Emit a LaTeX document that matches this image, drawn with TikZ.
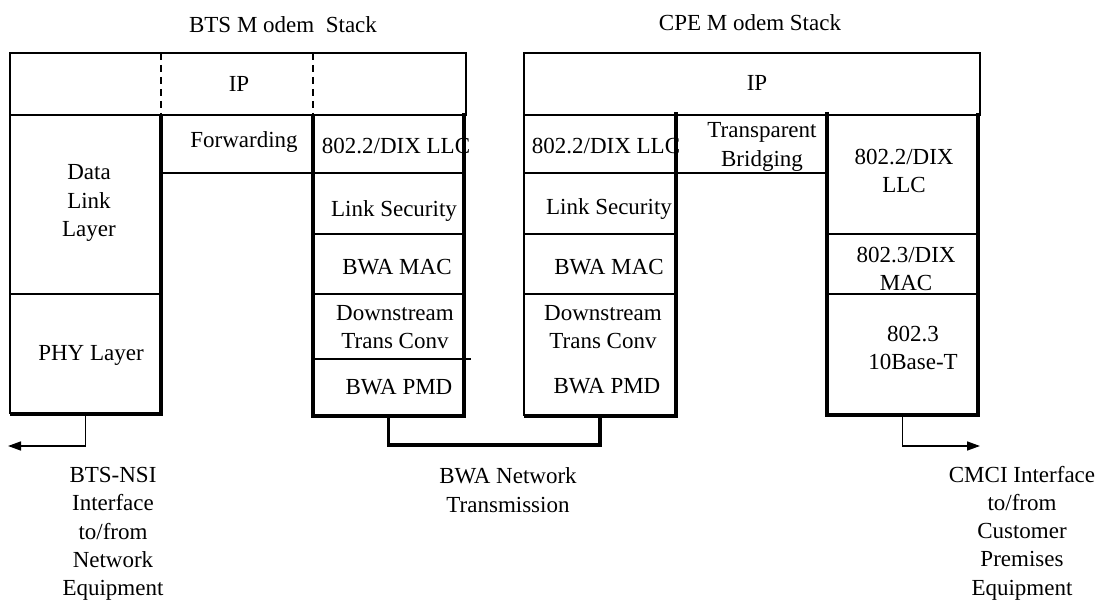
\documentclass[tikz,border=0pt]{standalone}
\usepackage{fontspec}
\setmainfont{Liberation Serif}
\usetikzlibrary{arrows.meta}
\begin{document}
\begin{tikzpicture}[x=1pt,y=-1pt,
  thinline/.style={line width=1.5pt},
  thickline/.style={line width=3.2pt, line join=miter},
  dashline/.style={line width=1.5pt, dash pattern=on 7pt off 5pt},
  lbl/.style={font=\fontsize{23}{28.7}\selectfont, inner sep=0pt, text height=15.5pt, text depth=0pt},
  mlbl/.style={font=\fontsize{23}{28.7}\selectfont, inner sep=0pt, align=center},
  tlbl/.style={font=\fontsize{23}{28.2}\selectfont, inner sep=0pt, align=center},
  block/.style={inner sep=0pt, outer sep=0pt, minimum width=#1}
]
\useasboundingbox (0,0) rectangle (1100,601);

% ---------- BTS modem stack ----------
\draw[thinline] (10,53) rectangle (466,115);
\draw[dashline] (161,53) -- (161,115);
\draw[dashline] (313,53) -- (313,115);
\draw[thinline] (10,115) -- (10,414);
\draw[thinline] (10,294) -- (161,294);
\draw[thickline] (10,414) -- (161,414) -- (161,115);
\draw[thinline] (161,173) -- (313,173);
\draw[thickline] (313,115) -- (313,416) -- (464,416) -- (464,113);
\draw[thinline] (313,173) -- (464,173);
\draw[thinline] (313,234) -- (464,234);
\draw[thinline] (313,294) -- (464,294);
\draw[thinline] (313,359) -- (471,359);

% anchor blocks for the interface lines
\node[block=151pt, minimum height=120pt] (phy) at (85.5,354) {};
\node[block=151pt, minimum height=301pt] (btsstack) at (388.5,265.5) {};

% ---------- CPE modem stack ----------
\draw[thinline] (524,53) rectangle (980,115);
\draw[thinline] (524,115) -- (524,416);
\draw[thickline] (524,416) -- (676,416) -- (676,112);
\draw[thinline] (524,173) -- (676,173);
\draw[thinline] (524,234) -- (676,234);
\draw[thinline] (524,294) -- (676,294);
\draw[thinline] (676,173) -- (827,173);
\draw[thickline] (827,112) -- (827,415) -- (978,415) -- (978,113);
\draw[thinline] (827,234) -- (978,234);
\draw[thinline] (827,294) -- (978,294);

\node[block=152pt, minimum height=301pt] (cpestack) at (600,265.5) {};
\node[block=151pt, minimum height=300pt] (cpeeth) at (902.5,265) {};

% ---------- labels ----------
\node[lbl] (btstitle) at (283,25) {BTS M odem\ \ Stack};
\node[lbl] (cpetitle) at (750,23) {CPE M odem Stack};

\node[lbl] (btsip) at (239,84) {IP};
\node[mlbl] (dll) at (89,203) {Data\\Link\\Layer};
\node[lbl] (phylbl) at (91,353) {PHY Layer};
\node[lbl] (fwd) at (244,140) {Forwarding};
\node[lbl] (btsllc) at (396,146) {802.2/DIX LLC};
\node[lbl] (btssec) at (394,209) {Link Security};
\node[lbl] (btsmac) at (397,267) {BWA MAC};
\node[mlbl] (btsconv) at (395,327) {Downstream\\Trans Conv};
\node[lbl] (btspmd) at (399,387) {BWA PMD};

\node[lbl] (cpeip) at (757,83) {IP};
\node[lbl] (cpellc) at (606,146) {802.2/DIX LLC};
\node[mlbl] (bridge) at (762,147) {Transparent\\Bridging};
\node[lbl] (cpesec) at (609,207) {Link Security};
\node[lbl] (cpemac) at (609,267) {BWA MAC};
\node[mlbl] (cpeconv) at (603,327) {Downstream\\Trans Conv};
\node[lbl] (cpepmd) at (607,386) {BWA PMD};
\node[mlbl] (ethllc) at (904,171) {802.2/DIX\\LLC};
\node[mlbl] (ethmac) at (906,269) {802.3/DIX\\MAC};
\node[mlbl] (ethphy) at (913,348) {802.3\\10Base-T};

% ---------- interfaces ----------
\coordinate (nsiend) at (8,446);
\coordinate (cmciend) at (980,446);
\draw[thinline, -{Triangle[length=13pt,width=9pt]}] (phy.south) |- (nsiend);
\draw[thinline, -{Triangle[length=13pt,width=9pt]}] (cpeeth.south) |- (cmciend);
\draw[thickline] (btsstack.south) -- ++(0,29) -| (cpestack.south);

\node[tlbl] (nsi) at (113,534) {BTS-NSI\\Interface\\to/from\\Network\\Equipment};
\node[mlbl] (bwanet) at (508,490) {BWA Network\\Transmission};
\node[tlbl] (cmci) at (1022,533) {CMCI Interface\\to/from\\Customer\\Premises\\Equipment};
\end{tikzpicture}
\end{document}
